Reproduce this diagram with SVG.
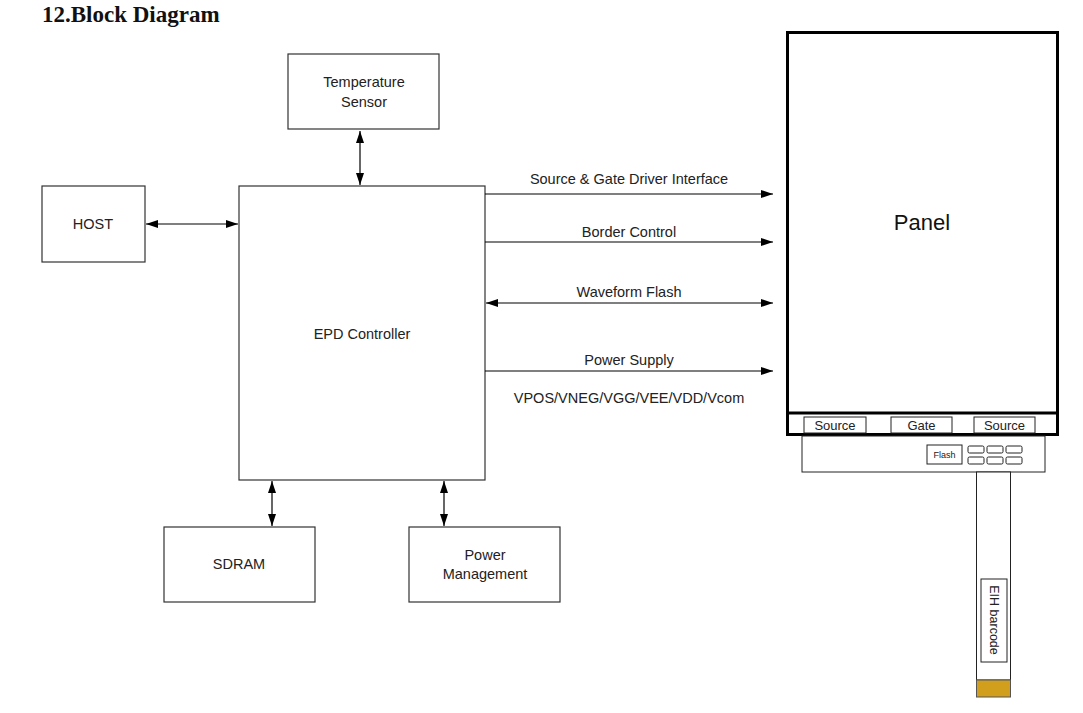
<svg xmlns="http://www.w3.org/2000/svg" width="1083" height="713" viewBox="0 0 1083 713">
<style>
.box{fill:#fff;stroke:#333;stroke-width:1.2}
.t{font-family:"Liberation Sans",Arial,sans-serif;font-size:14.5px;fill:#222;text-anchor:middle}
.s{font-size:13px}
.f{font-size:9px}
.b{font-size:12.5px}
.ln{stroke:#000;stroke-width:1.2;fill:none}
.thin{fill:#fff;stroke:#222;stroke-width:1}
</style>
<defs>
<marker id="ah" viewBox="0 0 12 8" refX="12" refY="4" markerWidth="12" markerHeight="8" markerUnits="userSpaceOnUse" orient="auto-start-reverse">
<path d="M0,0 L12,4 L0,8 Z" fill="#000"/>
</marker>
</defs>
<rect width="1083" height="713" fill="#fff"/>
<text x="42" y="22" font-family="'Liberation Serif','Times New Roman',serif" font-weight="bold" font-size="23" fill="#111">12.Block Diagram</text>

<g id="temp"><rect class="box" x="288" y="54" width="151" height="75"/><text class="t" x="364" y="87">Temperature</text><text class="t" x="364" y="107">Sensor</text></g>
<g id="host"><rect class="box" x="42" y="186" width="103" height="76"/><text class="t" x="93" y="229">HOST</text></g>
<g id="epd"><rect class="box" x="239" y="186" width="246" height="294"/><text class="t" x="362" y="339">EPD Controller</text></g>
<g id="sdram"><rect class="box" x="164" y="527" width="151" height="75"/><text class="t" x="239" y="569">SDRAM</text></g>
<g id="power"><rect class="box" x="409" y="527" width="151" height="75"/><text class="t" x="485" y="560">Power</text><text class="t" x="485" y="579">Management</text></g>

<g id="panel">
<rect x="787.5" y="32.5" width="270" height="402" fill="#fff" stroke="#000" stroke-width="3"/>
<line x1="787" y1="413" x2="1058" y2="413" stroke="#000" stroke-width="3"/>
<text x="922" y="230" font-family="'Liberation Sans',Arial,sans-serif" font-size="22" fill="#111" text-anchor="middle">Panel</text>
<rect class="thin" x="804" y="417" width="62" height="16"/><text class="t s" x="835" y="429.5">Source</text>
<rect class="thin" x="891" y="417" width="61" height="16"/><text class="t s" x="921.5" y="429.5">Gate</text>
<rect class="thin" x="974" y="417" width="61" height="16"/><text class="t s" x="1004.5" y="429.5">Source</text>
</g>
<g id="board">
<rect class="thin" x="802" y="436" width="243" height="36"/>
<rect class="thin" x="927" y="445" width="35" height="19"/><text class="t f" x="944.5" y="457.5">Flash</text>
<rect class="thin" x="968" y="446" width="16" height="7" rx="1.5"/>
<rect class="thin" x="987" y="446" width="16" height="7" rx="1.5"/>
<rect class="thin" x="1006" y="446" width="16" height="7" rx="1.5"/>
<rect class="thin" x="968" y="457" width="16" height="7" rx="1.5"/>
<rect class="thin" x="987" y="457" width="16" height="7" rx="1.5"/>
<rect class="thin" x="1006" y="457" width="16" height="7" rx="1.5"/>
</g>
<g id="fpc">
<rect class="thin" x="976.5" y="472" width="34" height="208"/>
<rect x="976.5" y="680" width="34" height="17" fill="#d19f1c" stroke="#555" stroke-width="1"/>
<rect class="thin" x="981" y="579" width="26" height="83"/>
<text class="t b" x="0" y="0" transform="translate(990,620) rotate(90)">EIH barcode</text>
</g>

<g id="connectors" class="ln">
<line class="ln" x1="360" y1="131" x2="360" y2="185" marker-start="url(#ah)" marker-end="url(#ah)"/>
<line class="ln" x1="146" y1="224" x2="238" y2="224" marker-start="url(#ah)" marker-end="url(#ah)"/>
<line class="ln" x1="272" y1="481" x2="272" y2="526" marker-start="url(#ah)" marker-end="url(#ah)"/>
<line class="ln" x1="444" y1="481" x2="444" y2="526" marker-start="url(#ah)" marker-end="url(#ah)"/>
<line class="ln" x1="485" y1="194" x2="773" y2="194" marker-end="url(#ah)"/>
<line class="ln" x1="485" y1="242" x2="773" y2="242" marker-end="url(#ah)"/>
<line class="ln" x1="486" y1="303" x2="773" y2="303" marker-start="url(#ah)" marker-end="url(#ah)"/>
<line class="ln" x1="485" y1="371" x2="773" y2="371" marker-end="url(#ah)"/>
</g>
<g id="labels">
<text class="t" x="629" y="184">Source &amp; Gate Driver Interface</text>
<text class="t" x="629" y="237">Border Control</text>
<text class="t" x="629" y="297">Waveform Flash</text>
<text class="t" x="629" y="365">Power Supply</text>
<text class="t" x="629" y="403">VPOS/VNEG/VGG/VEE/VDD/Vcom</text>
</g>
</svg>
